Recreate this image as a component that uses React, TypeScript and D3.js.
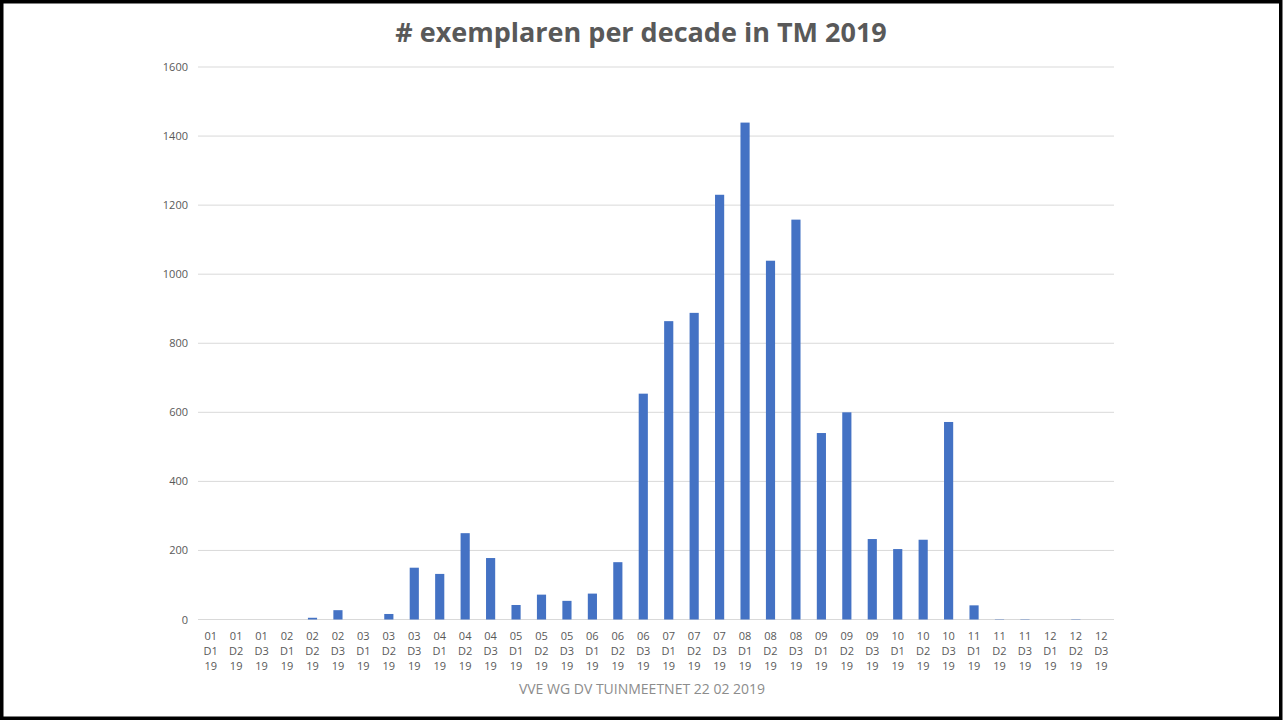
import React from "react";
import * as d3 from "d3";

const months = ["01","01","01","02","02","02","03","03","03","04","04","04","05","05","05","06","06","06","07","07","07","08","08","08","09","09","09","10","10","10","11","11","11","12","12","12"];
const decades = ["D1","D2","D3","D1","D2","D3","D1","D2","D3","D1","D2","D3","D1","D2","D3","D1","D2","D3","D1","D2","D3","D1","D2","D3","D1","D2","D3","D1","D2","D3","D1","D2","D3","D1","D2","D3"];
const values = [0,0,0,0,5,27,0,16,150,132,250,178,42,72,54,75,166,654,864,888,1230,1439,1039,1158,540,600,233,204,231,572,41,1,1,0,1,0];
const yTicks = [0,200,400,600,800,1000,1200,1400,1600];
const title = "# exemplaren per decade in TM 2019";
const footer = "VVE WG DV TUINMEETNET 22 02 2019";

const W = 1283, H = 722;
const left = 198, right = 1114, top = 67, bottom = 619.5;

export default function App() {
  const cats = months.map((m, i) => `${m} ${decades[i]} 19 #${i}`);
  const x = d3.scaleBand<string>().domain(cats).range([left, right]).paddingInner(0.64).paddingOuter(0.32);
  const y = d3.scaleLinear().domain([0, 1600]).range([bottom, top]);
  const font = "'Open Sans', 'Liberation Sans', sans-serif";
  return (
    <svg width={W} height={H} style={{ position: "absolute", left: 0, top: 0, background: "#fff" }} fontFamily={font}>
      <rect x={0} y={0} width={W} height={H} fill="#fff" />
      <text x={641} y={42} textAnchor="middle" fontSize={27} fontWeight="bold" fill="#595959">{title}</text>
      {yTicks.map(t => (
        <g key={t}>
          <line x1={left} x2={right} y1={y(t)} y2={y(t)} stroke="#d9d9d9" strokeWidth={1} />
          <text x={188} y={y(t) + 4} textAnchor="end" fontSize={11} fill="#595959">{t}</text>
        </g>
      ))}
      {values.map((v, i) => (
        <rect key={i} x={x(cats[i])} y={y(v)} width={x.bandwidth()} height={y(0) - y(v)} fill="#4472c4" />
      ))}
      {cats.map((c, i) => {
        const cx = (x(c) as number) + x.bandwidth() / 2;
        return (
          <text key={c} textAnchor="middle" fontSize={11} fill="#595959">
            <tspan x={cx} y={640}>{months[i]}</tspan>
            <tspan x={cx} y={655}>{decades[i]}</tspan>
            <tspan x={cx} y={670}>19</tspan>
          </text>
        );
      })}
      <text x={642} y={694} textAnchor="middle" fontSize={14} fill="#8c8c8c">{footer}</text>
      <rect x={1.75} y={1.75} width={1279} height={716.5} fill="none" stroke="#000" strokeWidth={3.5} />
    </svg>
  );
}
